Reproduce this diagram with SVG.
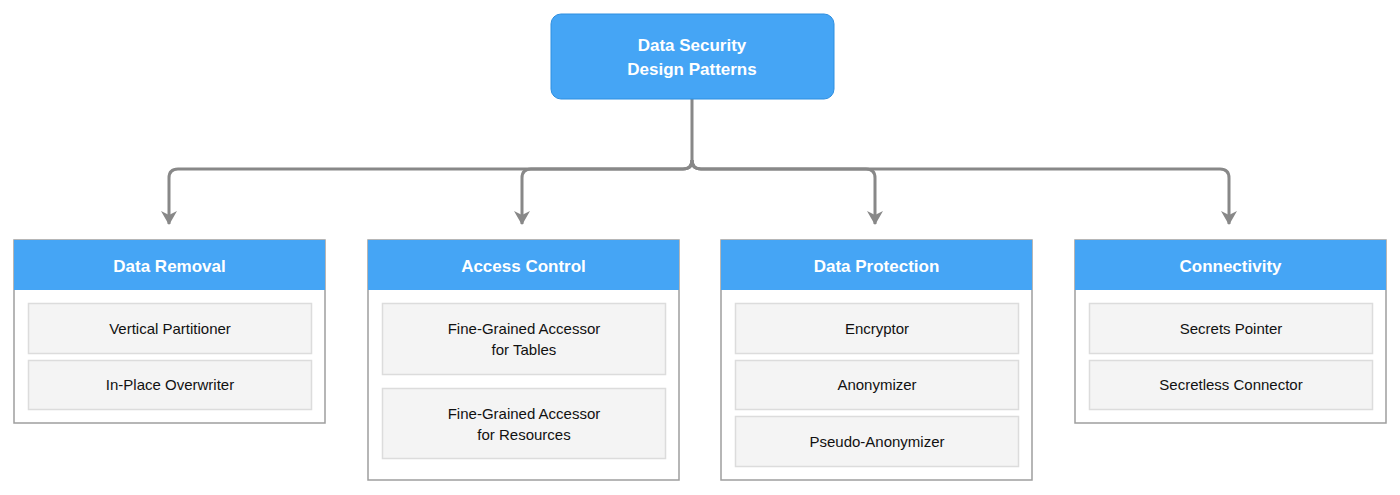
<svg xmlns="http://www.w3.org/2000/svg" width="1400" height="495" viewBox="0 0 1400 495">
<style>
text{font-family:"Liberation Sans",Arial,sans-serif;text-anchor:middle}
.h{fill:#fff;font-weight:bold;font-size:17px}
.t{fill:#111;font-size:15px}
.panel{fill:#fff;stroke:#9e9e9e;stroke-width:1.5}
.hdr{fill:#45a5f5}
.it{fill:#f4f4f4;stroke:#dcdcdc;stroke-width:1.5}
.c{fill:none;stroke:#888;stroke-width:3}
</style>
<defs><marker id="a" viewBox="0 0 10 10" refX="5" refY="9" markerWidth="5" markerHeight="5" orient="auto-start-reverse" markerUnits="userSpaceOnUse"><path d="M0,0 L5,3 L10,0 L5,10Z" fill="#888"/></marker>
<marker id="ar" viewBox="0 0 16 16" refX="8" refY="15" markerWidth="16" markerHeight="16" orient="0" markerUnits="userSpaceOnUse"><path d="M0,2 L8,6 L16,2 L8,16Z" fill="#888"/></marker></defs>
<g id="connectors">
<path class="c" d="M692,99 V160 Q692,169 683,169 H178 Q169,169 169,178 V224" marker-end="url(#ar)"/>
<path class="c" d="M692,160 Q692,169 683,169 H531 Q522,169 522,178 V224" marker-end="url(#ar)"/>
<path class="c" d="M692,160 Q692,169 701,169 H866 Q875,169 875,178 V224" marker-end="url(#ar)"/>
<path class="c" d="M692,160 Q692,169 701,169 H1220 Q1229,169 1229,178 V224" marker-end="url(#ar)"/>
</g>
<g id="root"><rect x="551" y="14" width="283" height="85" rx="10" fill="#45a5f5" stroke="#2f8fe0" stroke-width="1"/>
<text class="h" x="692" y="51">Data Security</text><text class="h" x="692" y="75">Design Patterns</text></g>
<g id="data-removal"><rect class="panel" x="14" y="240" width="311" height="183"/><rect class="hdr" x="14" y="240" width="311" height="50"/>
<text class="h" x="169.5" y="272">Data Removal</text>
<rect class="it" x="28.5" y="303.5" width="283" height="50"/><text class="t" x="170" y="334">Vertical Partitioner</text>
<rect class="it" x="28.5" y="360.5" width="283" height="49"/><text class="t" x="170" y="390">In-Place Overwriter</text></g>
<g id="access-control"><rect class="panel" x="368" y="240" width="311" height="240"/><rect class="hdr" x="368" y="240" width="311" height="50"/>
<text class="h" x="523.5" y="272">Access Control</text>
<rect class="it" x="382.5" y="303.5" width="283" height="71"/><text class="t" x="524" y="334">Fine-Grained Accessor</text><text class="t" x="524" y="355">for Tables</text>
<rect class="it" x="382.5" y="388.5" width="283" height="70"/><text class="t" x="524" y="419">Fine-Grained Accessor</text><text class="t" x="524" y="440">for Resources</text></g>
<g id="data-protection"><rect class="panel" x="721" y="240" width="311" height="240"/><rect class="hdr" x="721" y="240" width="311" height="50"/>
<text class="h" x="876.5" y="272">Data Protection</text>
<rect class="it" x="735.5" y="303.5" width="283" height="50"/><text class="t" x="877" y="334">Encryptor</text>
<rect class="it" x="735.5" y="360.5" width="283" height="49"/><text class="t" x="877" y="390">Anonymizer</text>
<rect class="it" x="735.5" y="416.5" width="283" height="50"/><text class="t" x="877" y="447">Pseudo-Anonymizer</text></g>
<g id="connectivity"><rect class="panel" x="1075" y="240" width="311" height="183"/><rect class="hdr" x="1075" y="240" width="311" height="50"/>
<text class="h" x="1230.5" y="272">Connectivity</text>
<rect class="it" x="1089.5" y="303.5" width="283" height="50"/><text class="t" x="1231" y="334">Secrets Pointer</text>
<rect class="it" x="1089.5" y="360.5" width="283" height="49"/><text class="t" x="1231" y="390">Secretless Connector</text></g>
</svg>
